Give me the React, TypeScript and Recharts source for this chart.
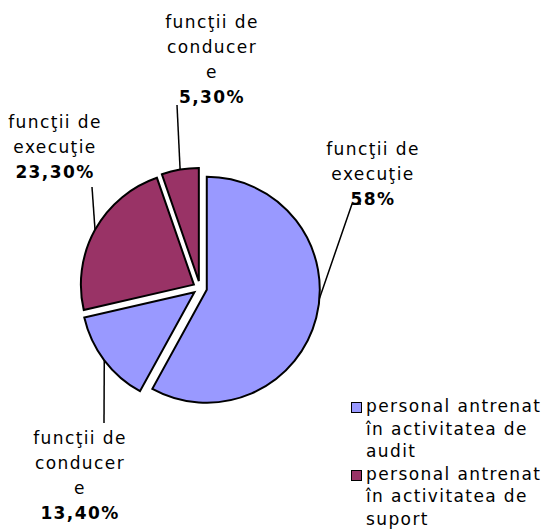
import { PieChart, Pie, Cell, Sector, Legend } from 'recharts'

const SLICE_VALUES = [58, 13.4, 23.3, 5.3]
const SLICE_PCT = ['58%', '13,40%', '23,30%', '5,30%']
const SLICE_TEXT = [
  ['funcţii de', 'execuţie'],
  ['funcţii de', 'conducer', 'e'],
  ['funcţii de', 'execuţie'],
  ['funcţii de', 'conducer', 'e'],
]
const SLICE_GROUP = [0, 0, 1, 1]
const GROUPS = ['personal antrenat în activitatea de audit', 'personal antrenat în activitatea de suport']
const COLORS = ['#9999FF', '#993366']

const FONT = '"DejaVu Sans", Verdana, sans-serif'
const RAD = Math.PI / 180
const EXPLODE = 7
const LINE_H = 25

// label layout relative to the pie centre: text centre x, first line centre y, leader points
const LABEL_LAYOUT = [
  { dx: 173, dy: -139, angleShift: 10, leader: [[152, -84], [161, -84]] },
  { dx: -120, dy: 150, angleShift: 0, leader: [[-96, 135]] },
  { dx: -145, dy: -166, angleShift: 0, leader: [[-108, -101]] },
  { dx: 12, dy: -266, angleShift: 0, leader: [[-23, -183]] },
]

const data = SLICE_VALUES.map((v, i) => ({ name: SLICE_TEXT[i].join(' '), value: v, group: SLICE_GROUP[i] }))

function ExplodedSector(props: any) {
  const { cx, cy, midAngle } = props
  const a = -midAngle * RAD
  return <Sector {...props} cx={cx + EXPLODE * Math.cos(a)} cy={cy + EXPLODE * Math.sin(a)} />
}

function renderLabel(props: any) {
  const { cx, cy, midAngle, outerRadius, index } = props
  const lay = LABEL_LAYOUT[index]
  const m = -midAngle * RAD
  const ex = cx + EXPLODE * Math.cos(m)
  const ey = cy + EXPLODE * Math.sin(m)
  const a = -(midAngle + lay.angleShift) * RAD
  const pts = [[ex + outerRadius * Math.cos(a), ey + outerRadius * Math.sin(a)], ...lay.leader.map(([x, y]) => [cx + x, cy + y])]
  const lines = SLICE_TEXT[index]
  return (
    <g key={`lbl-${index}`}>
      <polyline points={pts.map((p) => p.join(',')).join(' ')} fill="none" stroke="#000" strokeWidth={1.5} />
      {[...lines, SLICE_PCT[index]].map((t, j) => (
        <text
          key={j}
          x={cx + lay.dx}
          y={cy + lay.dy + j * LINE_H}
          textAnchor="middle"
          dominantBaseline="central"
          fontFamily={FONT}
          fontSize={17}
          fontWeight={j === lines.length ? 'bold' : 'normal'}
          letterSpacing={1.4}
          fill="#000"
        >
          {t}
        </text>
      ))}
    </g>
  )
}

function LegendContent() {
  return (
    <div style={{ fontFamily: FONT, fontSize: 17, letterSpacing: 1.4, lineHeight: '22.6px', color: '#000' }}>
      {GROUPS.map((g, i) => (
        <div key={g} style={{ display: 'flex', alignItems: 'flex-start' }}>
          <span
            style={{
              display: 'inline-block',
              width: 9,
              height: 9,
              marginTop: 7,
              marginRight: 4,
              background: COLORS[i],
              border: '1.5px solid #000',
              flex: 'none',
            }}
          />
          <span style={{ width: 182 }}>{g}</span>
        </div>
      ))}
    </div>
  )
}

export default function App() {
  return (
    <div style={{ position: 'absolute', left: 0, top: 0, width: 549, height: 531, background: '#fff' }}>
      <PieChart width={549} height={531} margin={{ top: 0, right: 0, bottom: 0, left: 0 }}>
        <Pie
          data={data}
          dataKey="value"
          cx={200}
          cy={288}
          outerRadius={113}
          startAngle={90}
          endAngle={-270}
          stroke="#000"
          strokeWidth={2}
          shape={ExplodedSector}
          label={renderLabel}
          labelLine={false}
          isAnimationActive={false}
        >
          {data.map((d, i) => (
            <Cell key={i} fill={COLORS[d.group]} />
          ))}
        </Pie>
        <Legend
          content={LegendContent}
          wrapperStyle={{ position: 'absolute', left: 351, top: 395, width: 198 }}
        />
      </PieChart>
    </div>
  )
}
